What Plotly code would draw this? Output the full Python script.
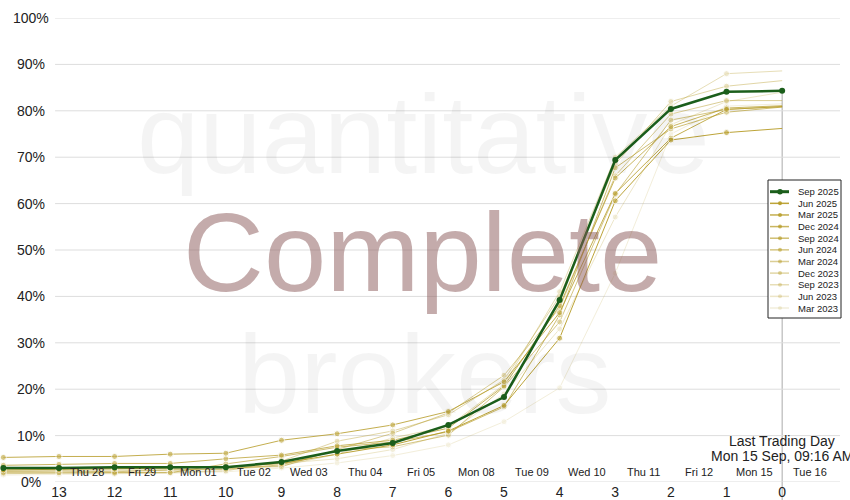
import plotly.graph_objects as go

days_left = [14, 13, 12, 11, 10, 9, 8, 7, 6, 5, 4, 3, 2, 1, 0]
date_pos = [12.5, 11.5, 10.5, 9.5, 8.5, 7.5, 6.5, 5.5, 4.5, 3.5, 2.5, 1.5, 0.5, -0.5]
date_labels = ["Thu 28", "Fri 29", "Mon 01", "Tue 02", "Wed 03", "Thu 04", "Fri 05",
               "Mon 08", "Tue 09", "Wed 10", "Thu 11", "Fri 12", "Mon 15", "Tue 16"]
y_ticks = [0, 10, 20, 30, 40, 50, 60, 70, 80, 90, 100]
x_ticks = [13, 12, 11, 10, 9, 8, 7, 6, 5, 4, 3, 2, 1, 0]

sep_2025 = [3.0, 3.0, 3.2, 3.2, 3.2, 4.3, 6.7, 8.4, 12.3, 18.3, 39.2, 69.4, 80.4, 84.1, 84.3]

series_names = ["Jun 2025", "Mar 2025", "Dec 2024", "Sep 2024", "Jun 2024",
                "Mar 2024", "Dec 2023", "Sep 2023", "Jun 2023", "Mar 2023"]
jun_2025 = [2.6, 2.7, 2.8, 3.0, 3.3, 4.0, 6.0, 8.0, 11.0, 16.5, 31.0, 60.6, 73.7, 75.3, 76.2]
mar_2025 = [5.3, 5.5, 5.5, 6.0, 6.2, 9.0, 10.4, 12.3, 15.2, 21.6, 36.5, 62.2, 74.1, 80.3, 80.9]
dec_2024 = [3.6, 3.8, 4.0, 4.0, 5.0, 5.8, 7.8, 9.0, 11.6, 20.7, 38.0, 65.5, 76.6, 80.6, 81.1]
sep_2024 = [2.0, 2.0, 1.9, 2.0, 3.9, 5.5, 7.5, 8.6, 10.8, 16.2, 36.0, 67.7, 76.1, 79.7, 80.8]
jun_2024 = [2.3, 2.4, 2.2, 2.6, 2.8, 3.7, 6.8, 7.6, 10.1, 20.5, 34.5, 62.0, 78.0, 80.3, 80.9]
mar_2024 = [2.8, 2.9, 3.0, 3.0, 3.1, 3.3, 7.0, 10.5, 14.9, 23.0, 37.5, 66.0, 79.3, 82.2, 82.2]
dec_2023 = [1.8, 1.9, 2.0, 2.1, 2.4, 4.5, 8.8, 11.0, 14.5, 22.0, 40.0, 68.5, 82.0, 85.3, 86.5]
sep_2023 = [2.2, 2.3, 2.4, 2.5, 2.7, 3.5, 6.0, 9.5, 12.0, 21.0, 41.0, 70.0, 81.0, 88.0, 88.6]
jun_2023 = [2.5, 2.6, 2.6, 2.8, 3.0, 4.0, 5.0, 7.0, 10.5, 19.0, 33.0, 57.1, 77.0, 82.0, 84.0]
mar_2023 = [1.5, 1.6, 1.7, 1.9, 2.2, 3.0, 4.1, 5.7, 8.0, 13.0, 20.3, 45.0, 75.0, 81.0, 81.5]
series_values = [jun_2025, mar_2025, dec_2024, sep_2024, jun_2024,
                 mar_2024, dec_2023, sep_2023, jun_2023, mar_2023]
series_opacity = [0.9, 0.8, 0.72, 0.64, 0.56, 0.48, 0.4, 0.32, 0.24, 0.16]

GOLD = "rgb(182,155,36)"
GREEN = "#1b5e1b"
FONT = "Liberation Sans, Arial, sans-serif"

W, H = 850, 500
ML, MR, MT, MB = 0, 10, 18, 18
PW, PH = W - ML - MR, H - MT - MB


def px(xp):
    return (xp - ML) / PW


def py(yp):
    return (H - MB - yp) / PH


fig = go.Figure()

marker_sizes = [6] * (len(days_left) - 1) + [0]
for i in reversed(range(len(series_names))):
    fig.add_trace(go.Scatter(
        x=days_left, y=series_values[i], name=series_names[i],
        mode="lines+markers", opacity=series_opacity[i],
        line=dict(color=GOLD, width=1),
        marker=dict(color=GOLD, size=marker_sizes),
        showlegend=False,
    ))

fig.add_trace(go.Scatter(
    x=days_left, y=sep_2025, name="Sep 2025", mode="lines+markers",
    line=dict(color=GREEN, width=2.5),
    marker=dict(color=GREEN, size=6),
    showlegend=False,
))

xmin, xmax = 14.06, -1.04
shapes = []
for v in y_ticks:
    shapes.append(dict(type="line", xref="x", yref="y", x0=13.07, x1=xmax, y0=v, y1=v,
                       line=dict(color="#dddddd", width=1), layer="below"))
shapes.append(dict(type="line", xref="x", yref="paper", x0=0, x1=0, y0=-0.04,
                   y1=sep_2025[-1] / 100.0, line=dict(color="#aaaaaa", width=1), layer="below"))

annotations = []
# watermark
annotations.append(dict(text="quantitative", x=px(423), y=py(134), xref="paper", yref="paper",
                        showarrow=False, xanchor="center", yanchor="middle",
                        font=dict(family=FONT, size=112, color="rgba(0,0,0,0.045)")))
annotations.append(dict(text="Complete", x=px(422), y=py(252), xref="paper", yref="paper",
                        showarrow=False, xanchor="center", yanchor="middle",
                        font=dict(family=FONT, size=112, color="rgba(140,90,90,0.51)")))
annotations.append(dict(text="brokers", x=px(424), y=py(374), xref="paper", yref="paper",
                        showarrow=False, xanchor="center", yanchor="middle",
                        font=dict(family=FONT, size=112, color="rgba(0,0,0,0.045)")))
for v in y_ticks:
    annotations.append(dict(text=f"{v}%", x=px(31), y=v, xref="paper", yref="y",
                            showarrow=False, xanchor="center", yanchor="middle",
                            font=dict(family=FONT, size=14, color="#222")))
for p, lab in zip(date_pos, date_labels):
    annotations.append(dict(text=lab, x=p, y=py(472), xref="x", yref="paper",
                            showarrow=False, xanchor="center", yanchor="middle",
                            font=dict(family=FONT, size=11, color="#222")))
annotations.append(dict(text="Last Trading Day", x=0, y=py(441), xref="x", yref="paper",
                        showarrow=False, xanchor="center", yanchor="middle",
                        font=dict(family=FONT, size=14, color="#222")))
annotations.append(dict(text="Mon 15 Sep, 09:16 AM", x=0, y=py(456), xref="x", yref="paper",
                        showarrow=False, xanchor="center", yanchor="middle",
                        font=dict(family=FONT, size=14, color="#222")))

# custom compact legend
leg_names = ["Sep 2025"] + series_names
leg_colors = [GREEN] + [GOLD] * len(series_names)
leg_opac = [1.0] + series_opacity
leg_lw = [3] + [1.5] * len(series_names)
leg_ms = [5.5] + [4] * len(series_names)
box_l, box_r, box_t, box_b = 768, 841, 180, 318
shapes.append(dict(type="rect", xref="paper", yref="paper", x0=px(box_l), x1=px(box_r),
                   y0=py(box_b), y1=py(box_t), fillcolor="white",
                   line=dict(color="#222", width=1), layer="above"))
row0, dy = 191.7, 11.63
for k, nm in enumerate(leg_names):
    yy = row0 + k * dy
    shapes.append(dict(type="line", xref="paper", yref="paper", x0=px(770), x1=px(789),
                       y0=py(yy), y1=py(yy), opacity=leg_opac[k],
                       line=dict(color=leg_colors[k], width=leg_lw[k]), layer="above"))
    r = leg_ms[k] / 2
    shapes.append(dict(type="circle", xref="paper", yref="paper",
                       x0=px(780 - r), x1=px(780 + r), y0=py(yy + r), y1=py(yy - r),
                       opacity=leg_opac[k], fillcolor=leg_colors[k],
                       line=dict(color=leg_colors[k], width=0), layer="above"))
    annotations.append(dict(text=nm, x=px(796), y=py(yy), xref="paper", yref="paper",
                            showarrow=False, xanchor="left", yanchor="middle",
                            font=dict(family=FONT, size=9.5, color="#222")))

fig.update_layout(
    width=W, height=H,
    margin=dict(l=ML, r=MR, t=MT, b=MB),
    paper_bgcolor="white", plot_bgcolor="white",
    font=dict(family=FONT, color="#222"),
    xaxis=dict(range=[xmin, xmax], tickvals=x_ticks, ticktext=[str(t) for t in x_ticks],
               showgrid=False, zeroline=False, showline=False, ticks="",
               tickfont=dict(size=14, color="#222")),
    yaxis=dict(range=[0, 100], showgrid=False, zeroline=False, showticklabels=False, ticks=""),
    shapes=shapes, annotations=annotations,
    showlegend=False,
)

fig.write_html("out.html", config={"displayModeBar": False},
               post_script="document.body.style.margin='0';")
